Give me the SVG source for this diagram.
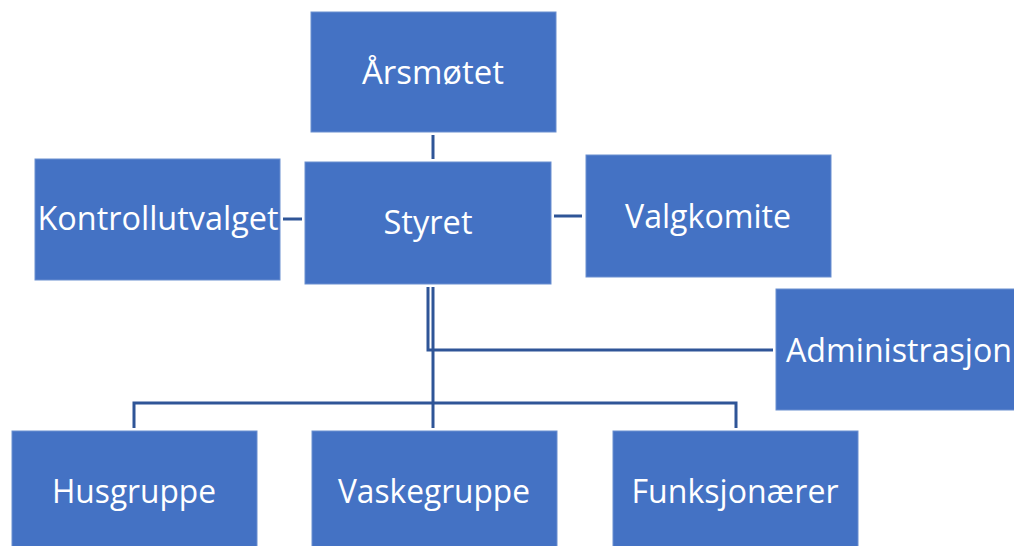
<svg xmlns="http://www.w3.org/2000/svg" width="1014" height="546" viewBox="0 0 1014 546">
<style>
.box{fill:#4472C4;stroke:#6A8FD0;stroke-width:1}
.lbl{font-family:"Open Sans","Liberation Sans",sans-serif;font-size:32px;fill:#FFFFFF;text-anchor:middle}
.con{stroke:#2F5597;stroke-width:3;fill:none}
</style>
<rect width="1014" height="546" fill="#FFFFFF"/>
<g id="connectors">
<line class="con" x1="433" y1="135" x2="433" y2="159"/>
<line class="con" x1="283" y1="219" x2="302" y2="219"/>
<line class="con" x1="554" y1="216" x2="582" y2="216"/>
<polyline class="con" points="428,287 428,350 773,350"/>
<line class="con" x1="433" y1="287" x2="433" y2="428"/>
<polyline class="con" points="134,428 134,403 736,403 736,428"/>
</g>
<g id="arsmotet"><rect class="box" x="311" y="12" width="245" height="120"/><text class="lbl" x="433" y="84" textLength="142" lengthAdjust="spacingAndGlyphs">Årsmøtet</text></g>
<g id="styret"><rect class="box" x="305" y="162" width="246" height="122"/><text class="lbl" x="428" y="234" textLength="89" lengthAdjust="spacingAndGlyphs">Styret</text></g>
<g id="kontrollutvalget"><rect class="box" x="35" y="159" width="245" height="121"/><text class="lbl" x="158" y="230" textLength="241" lengthAdjust="spacingAndGlyphs">Kontrollutvalget</text></g>
<g id="valgkomite"><rect class="box" x="586" y="155" width="245" height="122"/><text class="lbl" x="708" y="228" textLength="166" lengthAdjust="spacingAndGlyphs">Valgkomite</text></g>
<g id="administrasjon"><rect class="box" x="776" y="289" width="245" height="121"/><text class="lbl" x="899" y="362" textLength="226" lengthAdjust="spacingAndGlyphs">Administrasjon</text></g>
<g id="husgruppe"><rect class="box" x="12" y="431" width="245" height="122"/><text class="lbl" x="134" y="503" textLength="164" lengthAdjust="spacingAndGlyphs">Husgruppe</text></g>
<g id="vaskegruppe"><rect class="box" x="312" y="431" width="245" height="122"/><text class="lbl" x="434" y="503" textLength="192" lengthAdjust="spacingAndGlyphs">Vaskegruppe</text></g>
<g id="funksjonaerer"><rect class="box" x="613" y="431" width="245" height="122"/><text class="lbl" x="735" y="503" textLength="207" lengthAdjust="spacingAndGlyphs">Funksjonærer</text></g>
</svg>
